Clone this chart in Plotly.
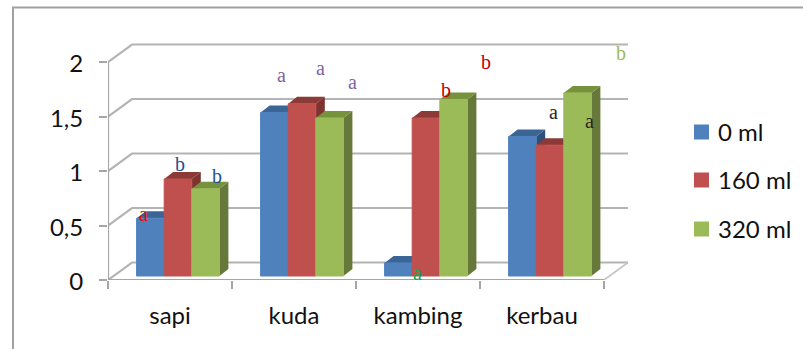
import plotly.graph_objects as go

# Chart values
categories = ["sapi", "kuda", "kambing", "kerbau"]
series_names = ["0 ml", "160 ml", "320 ml"]
values_0ml = [0.53, 1.50, 0.12, 1.28]
values_160ml = [0.89, 1.58, 1.45, 1.20]
values_320ml = [0.80, 1.45, 1.62, 1.68]
y_ticks = [0, 0.5, 1, 1.5, 2]
y_tick_labels = ["0", "0,5", "1", "1,5", "2"]

# Significance letters written above the bars: text, colour, pixel position
letters = [
    ("a", "#ff0000", 143, 214), ("b", "#1f4e8c", 180, 164), ("b", "#1f4e8c", 217, 176),
    ("a", "#8064a2", 281, 75), ("a", "#8064a2", 320, 68), ("a", "#8064a2", 352, 82),
    ("a", "#00b050", 417, 273), ("b", "#c00000", 446, 90), ("b", "#c00000", 486, 62),
    ("a", "#262626", 553, 112), ("a", "#262626", 589, 121), ("b", "#9bbb59", 621, 53),
]

# Face colours per series: front, top, side
front = ["#4f81bd", "#c0504d", "#9bbb59"]
top = ["#3b6595", "#8c3a37", "#76923c"]
side = ["#2f5078", "#7f3330", "#66783a"]

W, H = 803, 349
LEFT, RIGHT, BOTTOM, TOP = 108, 640, 280, 40
PX_X = 124.0   # pixels per category
PX_Y = 109.0   # pixels per value unit
x_range = [0, (RIGHT - LEFT) / PX_X]
y_range = [0, (BOTTOM - TOP) / PX_Y]

# Pseudo-3D depth of the chart box and of the bars
BOX_DX, BOX_DY = 24 / PX_X, 17.5 / PX_Y
BAR_DX, BAR_DY = 9 / PX_X, 7 / PX_Y
# The bars stand on the floor, a little behind its front edge
BAR_SHIFT_X, BAR_SHIFT_Y = 8 / PX_X, 4 / PX_Y
BAR_W = 27.6 / PX_X

GRID = "#b4b4b4"
FONT = "Lato"
fig = go.Figure()

# Back wall gridlines with their slanted returns to the axis
for v in y_ticks:
    fig.add_trace(go.Scatter(
        x=[0, BOX_DX, 4 + BOX_DX], y=[v, v + BOX_DY, v + BOX_DY], mode="lines",
        line=dict(color=GRID, width=2.2), showlegend=False, hoverinfo="skip", cliponaxis=False,
    ))
# Floor outline and the two axis lines
fig.add_trace(go.Scatter(
    x=[4, 4 + BOX_DX], y=[0, BOX_DY], mode="lines",
    line=dict(color="#c4c4c4", width=1.6), showlegend=False, hoverinfo="skip", cliponaxis=False,
))
fig.add_trace(go.Scatter(
    x=[0, 4], y=[0, 0], mode="lines",
    line=dict(color="#a6a6a6", width=2.2), showlegend=False, hoverinfo="skip", cliponaxis=False,
))
fig.add_trace(go.Scatter(
    x=[0, 0], y=[0, 2], mode="lines",
    line=dict(color="#a6a6a6", width=2.2), showlegend=False, hoverinfo="skip", cliponaxis=False,
))

# Top and side faces of the bars, painted left to right
all_values = [values_0ml, values_160ml, values_320ml]
for i in range(len(categories)):
    for j, vals in enumerate(all_values):
        v = vals[i]
        c = i + 0.5 + (j - 1) * BAR_W
        x0, x1 = c - BAR_W / 2, c + BAR_W / 2
        fig.add_trace(go.Scatter(
            x=[x1, x1 + BAR_DX, x1 + BAR_DX, x1, x1], y=[0, BAR_DY, v + BAR_DY, v, 0],
            mode="lines", fill="toself", fillcolor=side[j], line=dict(width=0, color=side[j]),
            xaxis="x2", yaxis="y2", showlegend=False, hoverinfo="skip",
        ))
        fig.add_trace(go.Scatter(
            x=[x0, x0 + BAR_DX, x1 + BAR_DX, x1, x0], y=[v, v + BAR_DY, v + BAR_DY, v, v],
            mode="lines", fill="toself", fillcolor=top[j], line=dict(width=0, color=top[j]),
            xaxis="x2", yaxis="y2", showlegend=False, hoverinfo="skip",
        ))

# Front faces, on their own overlay so they cover the faces behind them
for j, vals in enumerate(all_values):
    fig.add_trace(go.Bar(
        x=[i + 0.5 for i in range(len(categories))], y=vals, name=series_names[j],
        marker=dict(color=front[j], line=dict(color=front[j], width=1)),
        xaxis="x3", yaxis="y3", showlegend=False,
    ))

domain_x = [LEFT / W, RIGHT / W]
domain_y = [1 - BOTTOM / H, 1 - TOP / H]
shifted_x = [x_range[0] - BAR_SHIFT_X, x_range[1] - BAR_SHIFT_X]
shifted_y = [y_range[0] - BAR_SHIFT_Y, y_range[1] - BAR_SHIFT_Y]
hidden = dict(visible=False, fixedrange=True)

annotations = [
    dict(text=t, x=px / W, y=1 - py / H, xref="paper", yref="paper", showarrow=False,
         font=dict(family="Liberation Serif", size=20, color=col), xanchor="center", yanchor="middle")
    for t, col, px, py in letters
]

# Outer frame of the chart: left and top edges only
shapes = [
    dict(type="line", xref="paper", yref="paper", x0=13 / W, x1=13 / W, y0=0, y1=1 - 7 / H,
         line=dict(color="#a0a0a0", width=2)),
    dict(type="line", xref="paper", yref="paper", x0=12 / W, x1=1, y0=1 - 7.5 / H, y1=1 - 7.5 / H,
         line=dict(color="#a0a0a0", width=2)),
]

# Legend: a square swatch and a label per series
for name, col, cy in zip(series_names, front, [132, 180, 229]):
    shapes.append(dict(type="rect", xref="paper", yref="paper", x0=694 / W, x1=709 / W,
                       y0=1 - (cy + 7.5) / H, y1=1 - (cy - 7.5) / H,
                       fillcolor=col, line=dict(width=0)))
    annotations.append(dict(text=name, x=716 / W, y=1 - (cy - 1) / H, xref="paper", yref="paper",
                            showarrow=False, xanchor="left", yanchor="middle",
                            font=dict(family=FONT, size=24, color="#111111")))

fig.update_layout(
    width=W, height=H, margin=dict(l=0, r=0, t=0, b=0, autoexpand=False),
    paper_bgcolor="white", plot_bgcolor="rgba(0,0,0,0)",
    font=dict(family=FONT, size=24, color="#111111"),
    barmode="group", bargap=1 - 3 * BAR_W, bargroupgap=0,
    xaxis=dict(
        domain=domain_x, range=x_range, showgrid=False, zeroline=False, showline=False,
        tickmode="array", tickvals=[i + 0.5 for i in range(len(categories))], ticktext=categories,
        ticks="", ticklabelstandoff=19, fixedrange=True,
        minor=dict(tickmode="array", tickvals=list(range(len(categories) + 1)), ticks="outside",
                   ticklen=8, tickwidth=2, tickcolor="#a6a6a6", showgrid=False),
    ),
    yaxis=dict(
        domain=domain_y, range=y_range, showgrid=False, zeroline=False, showline=False,
        tickmode="array", tickvals=y_ticks, ticktext=y_tick_labels,
        ticks="outside", ticklen=8, tickwidth=2, tickcolor="#a6a6a6",
        ticklabelstandoff=11, ticklabelshift=2, fixedrange=True,
    ),
    xaxis2=dict(domain=domain_x, range=shifted_x, overlaying="x", anchor="y2", **hidden),
    yaxis2=dict(domain=domain_y, range=shifted_y, overlaying="y", anchor="x2", **hidden),
    xaxis3=dict(domain=domain_x, range=shifted_x, overlaying="x", anchor="y3", **hidden),
    yaxis3=dict(domain=domain_y, range=shifted_y, overlaying="y", anchor="x3", **hidden),
    annotations=annotations, shapes=shapes, showlegend=False,
)

fig.write_html("out.html", config=dict(displayModeBar=False))
